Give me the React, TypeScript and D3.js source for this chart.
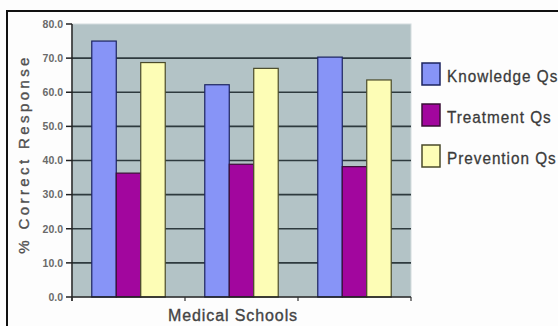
import React, { useEffect, useRef } from 'react';
import * as d3 from 'd3';

const schools = ['School A', 'School B', 'School C'];
const seriesNames = ['Knowledge Qs', 'Treatment Qs', 'Prevention Qs'];
const knowledge = [75.0, 62.2, 70.3];
const treatment = [36.3, 38.9, 38.2];
const prevention = [68.7, 67.0, 63.6];
const yTicks = [0, 10, 20, 30, 40, 50, 60, 70, 80];

const fills = ['#8794f7', '#a2069e', '#fdfdb6'];
const strokes = ['#1c2460', '#3a1036', '#4a4a2a'];

const App = () => {
  const svgRef = useRef(null);

  useEffect(() => {
    if (!svgRef.current) return;
    const svg = d3.select(svgRef.current);
    svg.selectAll('*').remove();

    const left = 72;
    const right = 411;
    const top = 24;
    const bottom = 297;
    const font = 'Liberation Sans, Arial, sans-serif';

    const values = [knowledge, treatment, prevention];

    const x0 = d3
      .scaleBand()
      .domain(schools)
      .range([left, right])
      .paddingInner(0.35)
      .paddingOuter(0.175);
    const x1 = d3
      .scaleBand()
      .domain(seriesNames)
      .range([0, x0.bandwidth()]);
    const y = d3.scaleLinear().domain([0, 80]).range([bottom, top]);

    // outer frame
    svg
      .append('rect')
      .attr('x', 7)
      .attr('y', 11)
      .attr('width', 600)
      .attr('height', 400)
      .attr('fill', '#fdfdfd')
      .attr('stroke', '#111')
      .attr('stroke-width', 2);

    // plot background
    svg
      .append('rect')
      .attr('x', left)
      .attr('y', top)
      .attr('width', right - left)
      .attr('height', bottom - top)
      .attr('fill', '#b3c3c6')
      .attr('stroke', '#d4dcde')
      .attr('stroke-width', 1);

    // gridlines
    svg
      .append('g')
      .selectAll('line')
      .data(yTicks.filter((t) => t > 0 && t < 80))
      .enter()
      .append('line')
      .attr('x1', left)
      .attr('x2', right)
      .attr('y1', (d) => y(d))
      .attr('y2', (d) => y(d))
      .attr('stroke', '#2e3a3e')
      .attr('stroke-width', 1.6);

    // bars
    const groups = svg
      .append('g')
      .selectAll('g')
      .data(schools)
      .enter()
      .append('g')
      .attr('transform', (d) => `translate(${x0(d)},0)`);

    groups
      .selectAll('rect')
      .data((d, i) => seriesNames.map((s, j) => ({ s, j, v: values[j][i] })))
      .enter()
      .append('rect')
      .attr('x', (d) => x1(d.s))
      .attr('y', (d) => y(d.v))
      .attr('width', x1.bandwidth())
      .attr('height', (d) => bottom - y(d.v))
      .attr('fill', (d) => fills[d.j])
      .attr('stroke', (d) => strokes[d.j])
      .attr('stroke-width', 1.2);

    // y axis
    svg
      .append('line')
      .attr('x1', left)
      .attr('x2', left)
      .attr('y1', top)
      .attr('y2', bottom + 4)
      .attr('stroke', '#222')
      .attr('stroke-width', 1.5);

    const yAxis = svg.append('g');
    yAxis
      .selectAll('line')
      .data(yTicks)
      .enter()
      .append('line')
      .attr('x1', left - 6)
      .attr('x2', left)
      .attr('y1', (d) => y(d))
      .attr('y2', (d) => y(d))
      .attr('stroke', '#222')
      .attr('stroke-width', 1.5);
    yAxis
      .selectAll('text')
      .data(yTicks)
      .enter()
      .append('text')
      .attr('x', left - 9)
      .attr('y', (d) => y(d) + 3.8)
      .attr('text-anchor', 'end')
      .attr('font-family', font)
      .attr('font-size', 10.5)
      .attr('font-weight', 'bold')
      .attr('fill', '#6a6a6a')
      .text((d) => d.toFixed(1));

    // x axis
    svg
      .append('line')
      .attr('x1', left)
      .attr('x2', right)
      .attr('y1', bottom)
      .attr('y2', bottom)
      .attr('stroke', '#222')
      .attr('stroke-width', 1.5);
    const bounds = [left, ...schools.slice(1).map((s) => x0(s) - (x0.step() - x0.bandwidth()) / 2), right];
    svg
      .append('g')
      .selectAll('line')
      .data(bounds)
      .enter()
      .append('line')
      .attr('x1', (d) => d)
      .attr('x2', (d) => d)
      .attr('y1', bottom)
      .attr('y2', bottom + 4)
      .attr('stroke', '#333')
      .attr('stroke-width', 1.2);

    svg
      .append('text')
      .attr('x', 233)
      .attr('y', 321)
      .attr('text-anchor', 'middle')
      .attr('font-family', font)
      .attr('font-size', 16)
      .attr('letter-spacing', 0.9)
      .attr('fill', '#444')
      .attr('stroke', '#444')
      .attr('stroke-width', 0.35)
      .text('Medical Schools');

    svg
      .append('text')
      .attr('transform', `translate(28.5,154) rotate(-90)`)
      .attr('text-anchor', 'middle')
      .attr('font-family', font)
      .attr('font-size', 15)
      .attr('letter-spacing', 3.4)
      .attr('fill', '#505050')
      .attr('stroke', '#505050')
      .attr('stroke-width', 0.35)
      .text('% Correct Response');

    // legend
    const legend = svg
      .append('g')
      .selectAll('g')
      .data(seriesNames)
      .enter()
      .append('g')
      .attr('transform', (d, i) => `translate(422,${63 + i * 41})`);
    legend
      .append('rect')
      .attr('width', 18)
      .attr('height', 22)
      .attr('fill', (d, i) => fills[i])
      .attr('stroke', (d, i) => strokes[i])
      .attr('stroke-width', 1.5);
    legend
      .append('text')
      .attr('transform', 'translate(25,19) scale(0.9,1)')
      .attr('font-family', font)
      .attr('font-size', 17)
      .attr('letter-spacing', 1.1)
      .attr('fill', '#3a3a3a')
      .attr('stroke', '#3a3a3a')
      .attr('stroke-width', 0.3)
      .text((d) => d);
  }, []);

  return (
    <svg
      ref={svgRef}
      width={558}
      height={326}
      style={{ position: 'absolute', left: 0, top: 0, background: '#fdfdfd' }}
    />
  );
};

export default App;
